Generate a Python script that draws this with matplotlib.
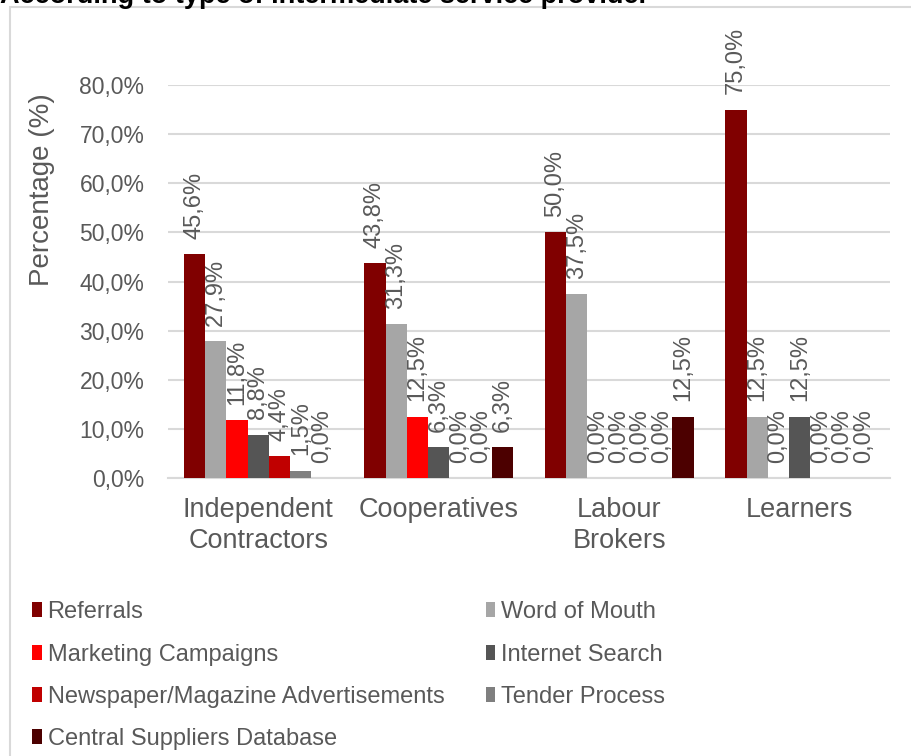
import matplotlib.pyplot as plt
import numpy as np
from matplotlib.patches import Rectangle

plt.rcParams['font.family'] = ['Liberation Sans', 'DejaVu Sans']

categories = ["Independent\nContractors", "Cooperatives", "Labour\nBrokers", "Learners"]
series = ["Referrals", "Word of Mouth", "Marketing Campaigns", "Internet Search",
          "Newspaper/Magazine Advertisements", "Tender Process", "Central Suppliers Database"]
colors = ["#800000", "#a6a6a6", "#ff0000", "#555555", "#c00000", "#7f7f7f", "#4c0000"]

referrals = [45.6, 43.8, 50.0, 75.0]
word_of_mouth = [27.9, 31.3, 37.5, 12.5]
marketing = [11.8, 12.5, 0.0, 0.0]
internet = [8.8, 6.3, 0.0, 12.5]
newspaper = [4.4, 0.0, 0.0, 0.0]
tender = [1.5, 0.0, 0.0, 0.0]
central = [0.0, 6.3, 12.5, 0.0]
values = [referrals, word_of_mouth, marketing, internet, newspaper, tender, central]

yticks = [0, 10, 20, 30, 40, 50, 60, 70, 80]

W, H = 911, 756
fig = plt.figure(figsize=(W / 100, H / 100), dpi=100)
txt = "#595959"

# chart border
fig.patches.append(Rectangle((10 / W, -0.1), 1.2, 1 - 7 / H + 0.1, transform=fig.transFigure,
                             fill=False, edgecolor="#d9d9d9", linewidth=1.5))
fig.text(0.0, 1 - 3 / H, "According to type of intermediate service provider",
         fontsize=19.5, fontweight="bold", color="black", va="baseline", ha="left")

ax = fig.add_axes([168 / W, 1 - 478 / H, (890 - 168) / W, (478 - 85) / H])
x = np.arange(len(categories))
bw = 0.118
bars = []
for i, (name, vals, c) in enumerate(zip(series, values, colors)):
    pos = x + (i - 3) * bw
    b = ax.bar(pos, vals, bw, color=c, label=name, zorder=3)
    bars.append(b)
    for p, v in zip(pos, vals):
        ax.annotate(f"{v:.1f}%".replace(".", ","), (p, v), xytext=(0, 11),
                    textcoords="offset points", rotation=90, ha="center", va="bottom",
                    fontsize=17, color=txt, annotation_clip=False)

ax.set_xlim(-0.5, 3.5)
ax.set_ylim(0, 80)
ax.set_yticks(yticks)
ax.set_yticklabels([f"{t:.1f}%".replace(".", ",") for t in yticks], fontsize=16.5, color=txt)
ax.set_xticks(x)
ax.set_xticklabels(categories, fontsize=19.5, color=txt, linespacing=1.25)
ax.tick_params(axis="y", length=0, pad=17)
ax.tick_params(axis="x", length=0, pad=14)
ax.grid(axis="y", color="#d9d9d9", linewidth=1.5, zorder=0)
for s in ["top", "right", "left"]:
    ax.spines[s].set_visible(False)
ax.spines["bottom"].set_color("#d9d9d9")
ax.spines["bottom"].set_linewidth(1.5)
ax.set_ylabel("Percentage (%)", fontsize=20, color=txt)
ax.yaxis.set_label_coords(-0.157, (478 - 190) / 393)

order = [0, 2, 4, 6, 1, 3, 5]
leg = fig.legend([bars[i] for i in order], [series[i] for i in order], ncol=2,
                 loc="upper left", bbox_to_anchor=(11 / W, 1 - 580 / H), frameon=False,
                 fontsize=17, handlelength=0.4, handleheight=0.6, handletextpad=0.25,
                 columnspacing=1.75, labelspacing=0.86, labelcolor=txt)

fig.savefig("out.png", dpi=100)
